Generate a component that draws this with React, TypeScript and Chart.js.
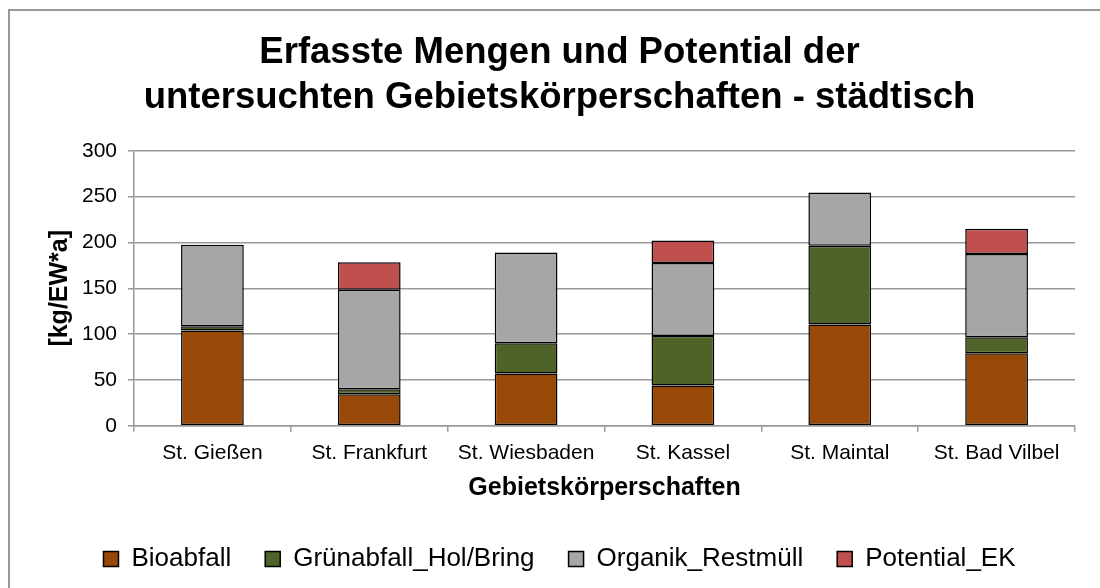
import React, { useEffect, useRef } from 'react';
import { Chart, registerables } from 'chart.js';

Chart.register(...registerables);

const categories = ['St. Gießen', 'St. Frankfurt', 'St. Wiesbaden', 'St. Kassel', 'St. Maintal', 'St. Bad Vilbel'];
const bioabfall = [104, 34.5, 57, 44, 110.5, 79];
const gruenabfall = [4.5, 5.5, 33, 54, 86, 17.5];
const organikRestmuell = [89, 108.5, 99, 79.5, 58, 91];
const potentialEK = [null, 30, null, 24.5, null, 27.5];
const seriesNames = ['Bioabfall', 'Grünabfall_Hol/Bring', 'Organik_Restmüll', 'Potential_EK'];
const seriesColors = ['#984807', '#4F6228', '#A6A6A6', '#C0504D'];
const titleLines = ['Erfasste Mengen und Potential der', 'untersuchten Gebietskörperschaften - städtisch'];
const yAxisTitle = '[kg/EW*a]';
const xAxisTitle = 'Gebietskörperschaften';
const yMin = 0;
const yMax = 300;
const yStep = 50;

export default function App() {
  const ref = useRef<HTMLCanvasElement>(null);

  useEffect(() => {
    const canvas = ref.current;
    if (!canvas) return;
    const family = '"Liberation Sans", Arial, Helvetica, sans-serif';
    const seriesData = [bioabfall, gruenabfall, organikRestmuell, potentialEK];
    const chart = new Chart(canvas, {
      type: 'bar',
      data: {
        labels: categories,
        datasets: seriesNames.map((name, i) => ({
          label: name,
          data: seriesData[i] as any,
          backgroundColor: seriesColors[i],
          borderColor: '#000',
          borderWidth: 1.5,
          borderSkipped: false,
          barPercentage: 0.4,
          categoryPercentage: 1,
        })),
      },
      options: {
        responsive: false,
        animation: false,
        devicePixelRatio: 1,
        layout: { padding: { left: 44, right: 25, top: 0, bottom: 6 } },
        plugins: {
          title: {
            display: true,
            text: titleLines,
            color: '#000',
            font: { size: 36.5, weight: 'bold', family, lineHeight: 1.216 },
            padding: { top: 31, bottom: 31 },
          },
          legend: {
            position: 'bottom',
            labels: {
              boxWidth: 15,
              boxHeight: 15,
              padding: 34,
              color: '#000',
              font: { size: 26, family },
            },
          },
          tooltip: { enabled: false },
        },
        scales: {
          x: {
            stacked: true,
            grid: {
              display: true,
              drawOnChartArea: false,
              drawTicks: true,
              tickLength: 6,
              color: '#999',
              lineWidth: 1.5,
              offset: true,
            },
            border: { color: '#999', width: 1.5 },
            ticks: {
              color: '#000',
              font: { size: 21, family },
              padding: 9,
              maxRotation: 0,
              autoSkip: false,
            },
            title: {
              display: true,
              text: xAxisTitle,
              color: '#000',
              font: { size: 25, weight: 'bold', family },
              padding: { top: -2, bottom: 9 },
            },
          },
          y: {
            stacked: true,
            min: yMin,
            max: yMax,
            ticks: {
              stepSize: yStep,
              color: '#000',
              font: { size: 21, family },
              padding: 11,
            },
            grid: { color: '#999', lineWidth: 1.5, tickLength: 6 },
            border: { color: '#999', width: 1.5 },
            title: {
              display: true,
              text: yAxisTitle,
              color: '#000',
              font: { size: 25, weight: 'bold', family },
              padding: { top: 1, bottom: 0 },
            },
            afterFit: (s: any) => {
              s.width = 90;
            },
          },
        },
      } as any,
    });
    return () => chart.destroy();
  }, []);

  return (
    <div>
      <div
        style={{
          position: 'fixed',
          left: 8,
          top: 9,
          width: 1200,
          height: 700,
          border: '2px solid #999',
          boxSizing: 'border-box',
        }}
      />
      <canvas ref={ref} width={1100} height={588} style={{ position: 'fixed', left: 0, top: 0 }} />
    </div>
  );
}
